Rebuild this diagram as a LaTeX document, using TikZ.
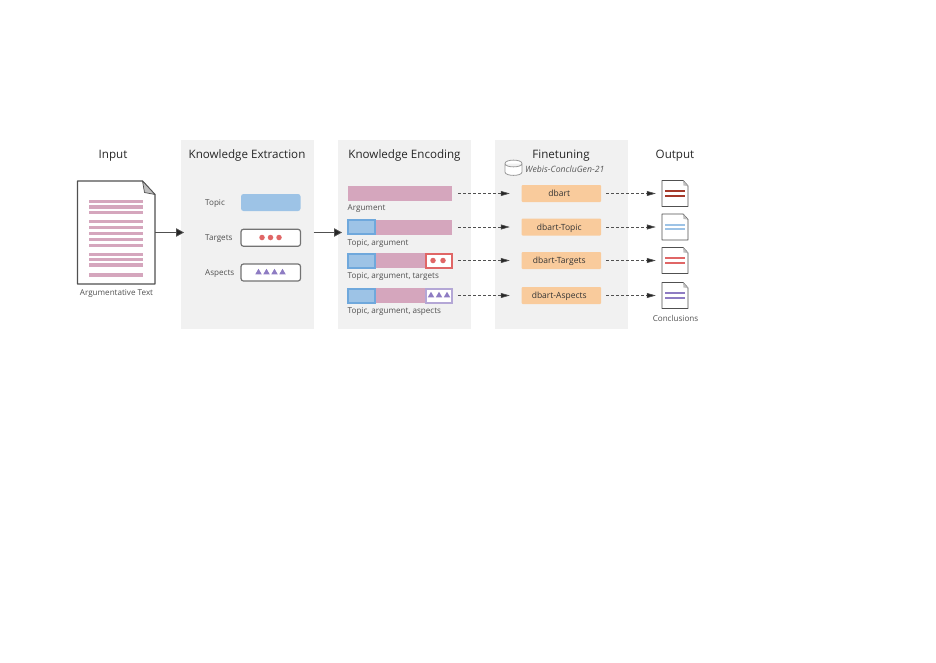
\documentclass[tikz,border=0pt]{standalone}
\usepackage{fontspec}
\setmainfont{Open Sans}
\usetikzlibrary{arrows.meta,shapes.geometric}
\definecolor{argpink}{HTML}{D5A6BD}
\definecolor{topicblue}{HTML}{9DC3E6}
\definecolor{topicedge}{HTML}{6FA8DC}
\definecolor{targetred}{HTML}{E06666}
\definecolor{aspectviolet}{HTML}{8E7CC3}
\definecolor{aspectedge}{HTML}{B4A7D6}
\definecolor{modelorange}{HTML}{F9CB9C}
\definecolor{panelgray}{HTML}{F1F1F1}
\definecolor{inkgray}{HTML}{505050}
\definecolor{concludered}{HTML}{A5392A}
\tikzset{
  panelbox/.style={fill=panelgray,minimum width=133pt,minimum height=189pt,inner sep=0pt},
  headlabel/.style={font=\fontsize{11.6pt}{13pt}\selectfont,text=black!85,inner sep=0pt,text height=8.3pt,text depth=0pt},
  smalllabel/.style={font=\fontsize{8.1pt}{9pt}\selectfont,text=inkgray,inner sep=0pt,text height=6.8pt,text depth=0pt},
  keybox/.style={rounded corners=2.5pt,minimum width=59.5pt,minimum height=17pt,inner sep=0pt},
  barbox/.style={fill=argpink,minimum width=104.5pt,minimum height=15pt,inner sep=0pt},
  modelbox/.style={fill=modelorange,rounded corners=1pt,minimum width=79.5pt,minimum height=17pt,inner sep=0pt},
  modeltext/.style={font=\fontsize{8.5pt}{10pt}\selectfont,text=black!80,inner sep=0pt,text height=6pt,text depth=0pt,xshift=-2pt},
  dot/.style={circle,fill=targetred,minimum size=5.5pt,inner sep=0pt},
  tri/.style={regular polygon,regular polygon sides=3,fill=aspectviolet,minimum size=7.5pt,inner sep=0pt},
  solidflow/.style={draw=inkgray,line width=0.8pt,-{Triangle[length=8pt,width=8.5pt,fill=black!85]}},
  dashflow/.style={draw=inkgray,line width=0.6pt,dash pattern=on 3pt off 2pt,
    -{Triangle[length=9pt,width=5pt,fill=black!85]}}
}
\begin{document}
\begin{tikzpicture}[x=1pt,y=-1pt]
  \useasboundingbox (0,0) rectangle (936,662);
  % panels
  \node[panelbox] (extractpanel) at (247,234.5) {};
  \node[panelbox] (encodepanel) at (404.5,234.5) {};
  \node[panelbox] (tunepanel) at (561.5,234.5) {};
  % headings
  \node[headlabel] (inputhead) at (113,154.7) {Input};
  \node[headlabel] (extracthead) at (247,154.7) {Knowledge Extraction};
  \node[headlabel] (encodehead) at (404.5,154.7) {Knowledge Encoding};
  \node[headlabel] (tunehead) at (561,154.7) {Finetuning};
  \node[headlabel] (outputhead) at (675,154.7) {Output};
  % input document
  \node[minimum width=77.5pt,minimum height=103pt,inner sep=0pt] (doc) at (116.25,232.5) {};
  \draw[draw=inkgray,line width=1.1pt,fill=white,line join=round]
    (77.5,181) -- (142.5,181) -- (155,194.5) -- (155,284) -- (77.5,284) -- cycle;
  \draw[draw=inkgray,line width=0.7pt,fill=black!25,line join=round]
    (142.5,181) -- (144.5,192.5) -- (155,194.5) -- cycle;
  \foreach \y in {201.7,207,212.3,221.7,227.7,233.7,239.7,245.7,254.3,259.7,265,275}{
    \fill[argpink] (88.5,\y-1.7) rectangle (143,\y+1.7);
  }
  \node[smalllabel] (doclabel) at (116.5,292.5) {Argumentative Text};
  % extraction keys
  \node[smalllabel,anchor=west] (topickey) at (205,202) {Topic};
  \node[smalllabel,anchor=west] (targetkey) at (205,237.5) {Targets};
  \node[smalllabel,anchor=west] (aspectkey) at (205,272.2) {Aspects};
  \node[keybox,fill=topicblue] (topicbox) at (270.75,202.5) {};
  \node[keybox,draw=black!55,line width=1.2pt,fill=white] (targetbox) at (270.75,237.75) {};
  \node[keybox,draw=black!55,line width=1.2pt,fill=white] (aspectbox) at (270.75,272.5) {};
  \foreach \x in {262,270.5,279}{
    \node[dot] at (\x,237.5) {};
  }
  \foreach \x in {258.5,266.5,274.5,282.5}{
    \node[tri] at (\x,272.5) {};
  }
  % encoding bars
  \node[barbox] (bar1) at (399.75,193.5) {};
  \node[barbox] (bar2) at (399.75,227) {};
  \node[barbox] (bar3) at (399.75,260.5) {};
  \node[barbox] (bar4) at (399.75,295.5) {};
  \foreach \y in {227,260.5,295.5}{
    \draw[fill=topicblue,draw=topicedge,line width=2pt] (347.5,\y-7) rectangle (374.5,\y+7);
  }
  \draw[fill=white,draw=targetred,line width=2pt] (425.5,253.5) rectangle (452,267.5);
  \foreach \x in {433,443}{
    \node[dot] at (\x,260.5) {};
  }
  \draw[fill=white,draw=aspectedge,line width=2pt] (425.5,288.5) rectangle (452,302.5);
  \foreach \x in {431,439,447}{
    \node[tri] at (\x,295.5) {};
  }
  \node[smalllabel,anchor=west] (barlabel1) at (347.5,207) {Argument};
  \node[smalllabel,anchor=west] (barlabel2) at (347.5,241.7) {Topic, argument};
  \node[smalllabel,anchor=west] (barlabel3) at (347.5,274.7) {Topic, argument, targets};
  \node[smalllabel,anchor=west] (barlabel4) at (347.5,310.3) {Topic, argument, aspects};
  % corpus
  \draw[draw=black!40,fill=white,line width=0.8pt]
    (505,163.5) .. controls (505,159) and (522,159) .. (522,163.5) -- (522,172)
    .. controls (522,176.5) and (505,176.5) .. (505,172) -- cycle
    (505,163.5) .. controls (505,168) and (522,168) .. (522,163.5);
  \node[smalllabel,anchor=west,font=\fontsize{8.7pt}{9pt}\selectfont\itshape,text=black!65] (corpuslabel) at (525,168.7) {Webis-ConcluGen-21};
  % models
  \node[modelbox,label={[modeltext]center:dbart}] (model1) at (561.25,193.5) {};
  \node[modelbox,label={[modeltext]center:dbart-Topic}] (model2) at (561.25,227) {};
  \node[modelbox,label={[modeltext]center:dbart-Targets}] (model3) at (561.25,260.5) {};
  \node[modelbox,label={[modeltext]center:dbart-Aspects}] (model4) at (561.25,295.5) {};
  % conclusions
  \foreach \n/\y/\c in {1/193.5/concludered,2/227/topicblue,3/260.5/targetred,4/295.5/aspectviolet}{
    \node[minimum width=26pt,minimum height=26pt,inner sep=0pt] (out\n) at (675,\y) {};
    \draw[draw=inkgray,line width=0.9pt,fill=white,line join=round]
      (662,\y-13) -- (683,\y-13) -- (688,\y-7.5) -- (688,\y+13) -- (662,\y+13) -- cycle;
    \fill[black!25] (683,\y-13) -- (683.5,\y-8) -- (688,\y-7.5) -- cycle;
    \draw[\c,line width=1.9pt] (665,\y-2.2) -- (685,\y-2.2) (665,\y+2.2) -- (685,\y+2.2);
    \draw[dashflow,shorten <=6pt,shorten >=11.5pt] (bar\n.east) -- (model\n.west);
    \draw[dashflow,shorten <=5pt,shorten >=6pt] (model\n.east) -- (out\n.west);
  }
  \node[smalllabel] (outlabel) at (675.5,318.5) {Conclusions};
  % solid arrows
  \coordinate (extractin) at (184,232.5);
  \coordinate (extractout) at (313.5,232.5);
  \coordinate (encodein) at (342,232.5);
  \draw[solidflow] (doc.east) -- (extractin);
  \draw[solidflow] (extractout) -- (encodein);
\end{tikzpicture}
\end{document}
